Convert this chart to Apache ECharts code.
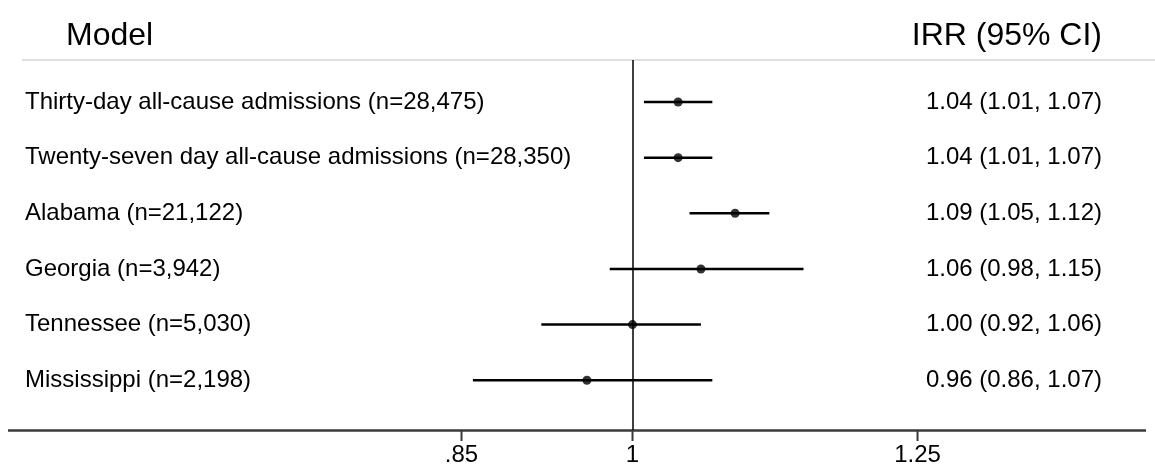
<!DOCTYPE html>
<html>
<head>
<meta charset="utf-8">
<script src="https://cdn.jsdelivr.net/npm/echarts@6/dist/echarts.min.js"></script>
<style>html,body{margin:0;padding:0;background:#fff}#c{width:1155px;height:474px}</style>
</head>
<body>
<div id="c"></div>
<script>
var models = ['Thirty-day all-cause admissions (n=28,475)', 'Twenty-seven day all-cause admissions (n=28,350)', 'Alabama (n=21,122)', 'Georgia (n=3,942)', 'Tennessee (n=5,030)', 'Mississippi (n=2,198)'];
var irr = [1.04, 1.04, 1.09, 1.06, 1.00, 0.96];
var lower = [1.01, 1.01, 1.05, 0.98, 0.92, 0.86];
var upper = [1.07, 1.07, 1.12, 1.15, 1.06, 1.07];
var tickValues = [0.85, 1, 1.25];
var tickLabels = ['.85', '1', '1.25'];

var FONT = '"Liberation Sans", Arial, sans-serif';
var Y_MIN = -0.7547, Y_AXISLINE = 5.894, Y_MAX = 6.0916;
var rowIdx = models.map(function (_, i) { return i; });
var pointData = irr.map(function (v, i) { return [v, i]; });
var ciData = lower.map(function (v, i) { return [v, i, upper[i]]; });
var tickData = tickValues.map(function (v) { return [v, Y_AXISLINE, Y_MAX]; });

var chart = echarts.init(document.getElementById('c'), null, {renderer: 'canvas'});
chart.setOption({
  animation: false,
  backgroundColor: '#fff',
  title: [
    {text: 'Model', left: 66, top: 20, padding: 0, textStyle: {fontSize: 32, fontWeight: 'normal', color: '#000', fontFamily: FONT}},
    {text: 'IRR (95% CI)', right: 53, top: 20, padding: 0, textStyle: {fontSize: 32, fontWeight: 'normal', color: '#000', fontFamily: FONT}}
  ],
  graphic: [
    {type: 'line', shape: {x1: 22, y1: 60, x2: 1155, y2: 60}, style: {stroke: '#dedede', lineWidth: 2}, silent: true}
  ],
  grid: {left: 8, right: 9, top: 60, bottom: 33, containLabel: false},
  xAxis: {
    type: 'value', min: 0.4522, max: 1.4504,
    axisLine: {show: false},
    axisTick: {show: false},
    axisLabel: {show: true, customValues: tickValues, margin: 2, fontSize: 24, color: '#000', fontFamily: FONT,
      formatter: function (v) { var k = tickValues.indexOf(v); return k >= 0 ? tickLabels[k] : ''; }},
    splitLine: {show: false}
  },
  yAxis: [
    {
      type: 'value', position: 'left', min: Y_MIN, max: Y_MAX, inverse: true,
      axisLine: {show: false}, axisTick: {show: false}, splitLine: {show: false},
      axisLabel: {show: true, inside: true, customValues: rowIdx, margin: 17, fontSize: 24, color: '#000', fontFamily: FONT,
        formatter: function (v) { return models[Math.round(v)]; }}
    },
    {
      type: 'value', position: 'right', min: Y_MIN, max: Y_MAX, inverse: true,
      axisLine: {show: false}, axisTick: {show: false}, splitLine: {show: false},
      axisLabel: {show: true, inside: true, customValues: rowIdx, margin: 44, fontSize: 24, color: '#000', fontFamily: FONT,
        formatter: function (v) { var i = Math.round(v); return irr[i].toFixed(2) + ' (' + lower[i].toFixed(2) + ', ' + upper[i].toFixed(2) + ')'; }}
    }
  ],
  series: [
    {
      type: 'custom', yAxisIndex: 0, data: tickData, silent: true,
      encode: {x: 0, y: [1, 2]},
      renderItem: function (params, api) {
        var a = api.coord([api.value(0), api.value(1)]);
        var b = api.coord([api.value(0), api.value(2)]);
        return {type: 'line', shape: {x1: a[0], y1: a[1], x2: b[0], y2: b[1]}, style: {stroke: '#3a3a3a', lineWidth: 2}};
      },
      z: 2,
      markLine: {silent: true, symbol: 'none', label: {show: false},
        lineStyle: {color: '#3a3a3a', width: 2.5, type: 'solid'},
        data: [{yAxis: Y_AXISLINE}]}
    },
    {
      type: 'custom', yAxisIndex: 0, data: ciData, silent: true,
      encode: {x: [0, 2], y: 1},
      renderItem: function (params, api) {
        var a = api.coord([api.value(0), api.value(1)]);
        var b = api.coord([api.value(2), api.value(1)]);
        return {type: 'line', shape: {x1: a[0], y1: a[1], x2: b[0], y2: b[1]}, style: {stroke: '#000', lineWidth: 2.5}};
      },
      z: 3
    },
    {
      type: 'scatter', yAxisIndex: 0, data: pointData, symbol: 'circle', symbolSize: 9,
      itemStyle: {color: '#000'}, z: 4,
      markLine: {silent: true, symbol: 'none', label: {show: false},
        lineStyle: {color: '#000', width: 1.5, type: 'solid'},
        data: [[{coord: [1, Y_MIN]}, {coord: [1, Y_AXISLINE]}]]}
    }
  ]
});
</script>
</body>
</html>
